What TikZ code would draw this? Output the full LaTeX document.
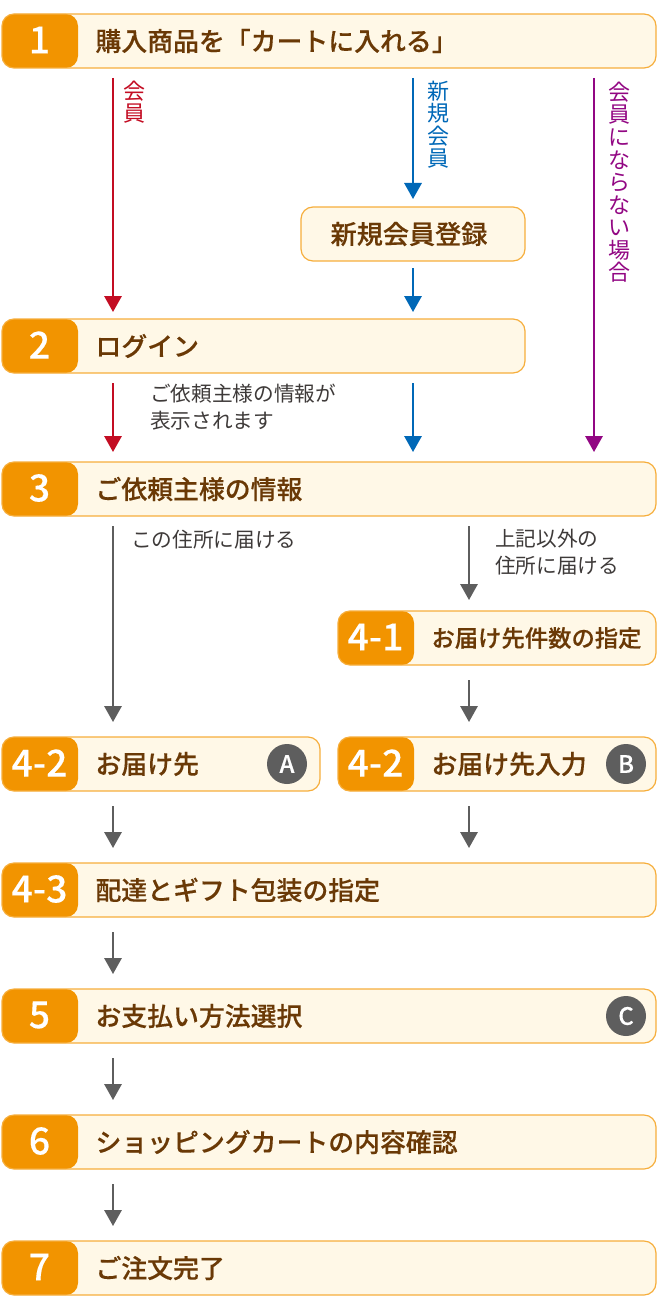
\documentclass[tikz,border=0pt]{standalone}
\usepackage{fontspec}
\setmainfont{Noto Sans CJK JP}
\newfontfamily\midfont[FakeBold=0.25]{Noto Sans CJK JP Medium}
\usetikzlibrary{arrows.meta, calc, positioning}
\definecolor{tabo}{HTML}{F29400}
\definecolor{rand}{HTML}{F6AE3C}
\definecolor{creme}{HTML}{FFF8E7}
\definecolor{braun}{HTML}{6A3906}
\definecolor{rot}{HTML}{C30D23}
\definecolor{blau}{HTML}{0068B7}
\definecolor{lila}{HTML}{920783}
\definecolor{grau}{HTML}{5E5E5E}
\definecolor{notiz}{HTML}{3E3A39}
\def\px{0.75pt}

\begin{document}
\begin{tikzpicture}[
    x=0.75pt, y=-0.75pt,
    every node/.style={inner sep=0pt, outer sep=0pt},
    boxbase/.style={draw=rand, line width=0.9pt, fill=creme, rounded corners=9pt,
      anchor=north west, minimum height=54*\px},
    tabbox/.style={boxbase, path picture={
      \fill[tabo] (path picture bounding box.north west) rectangle
        ([xshift=76*\px]path picture bounding box.south west);}},
    stepnum/.style={text=white, font=\midfont\fontsize{28pt}{28pt}\selectfont},
    steptxt/.style={text=braun, anchor=west, font=\midfont\fontsize{19.4pt}{22pt}\selectfont},
    badge/.style={circle, fill=grau, minimum size=40*\px, text=white,
      font=\midfont\fontsize{18pt}{18pt}\selectfont},
    note/.style={text=notiz, anchor=north west, align=left,
      font=\fontsize{15.5pt}{20.5pt}\selectfont},
    tate/.style={anchor=north, align=center, font=\fontsize{16.5pt}{16.9pt}\selectfont},
    pfeil/.style={line width=1.6pt, shorten <=#1*\px, shorten >=#1*\px,
      -{Triangle[width=13pt, length=12pt]}},
    pfeil/.default=10,
  ]
  \useasboundingbox (0,0) rectangle (658,1316);

  % Spalten der Pfeile
  \coordinate (colA) at (113,0);
  \coordinate (colB) at (413,0);
  \coordinate (colC) at (594,0);
  \coordinate (colD) at (469,0);

  % Kästen mit Nummer
  \foreach \nm/\kx/\ky/\kw/\num/\txt in {
      a/2/14/654/1/購入商品を「カートに入れる」,
      b/2/319/523/2/ログイン,
      c/2/462/654/3/ご依頼主様の情報,
      d/338/611/318/4-1/{\fontsize{17.5pt}{22pt}\selectfont お届け先件数の指定},
      e/2/737/318/4-2/お届け先,
      f/338/737/318/4-2/お届け先入力,
      g/2/863/654/4-3/配達とギフト包装の指定,
      h/2/989/654/5/お支払い方法選択,
      i/2/1115/654/6/ショッピングカートの内容確認,
      j/2/1241/654/7/ご注文完了} {
    \node[tabbox, minimum width=\kw*\px] (box\nm) at (\kx,\ky) {};
    \node[stepnum] (num\nm) at ($(\kx,\ky)+(37.5,26)$) {\num};
    \node[steptxt] (txt\nm) at ($(\kx,\ky)+(93.5,27)$) {\txt};
  }

  % Kasten ohne Nummer
  \node[boxbase, minimum width=224*\px] (boxn) at (301,207) {};
  \node[steptxt, anchor=center, font=\midfont\fontsize{19.6pt}{22pt}\selectfont] (txtn) at (409,234) {新規会員登録};

  % A, B, C
  \node[badge] (badgeA) at (287,764) {A};
  \node[badge] (badgeB) at (626,764) {B};
  \node[badge] (badgeC) at (626,1016) {C};

  % rot
  \draw[pfeil=7, shorten <=10*\px, rot] (boxa.south -| colA) -- (boxb.north -| colA);
  \draw[pfeil, rot] (boxb.south -| colA) -- (boxc.north -| colA);
  % blau
  \draw[pfeil=8, shorten <=10*\px, blau] (boxa.south -| colB) -- (boxn.north -| colB);
  \draw[pfeil=7, blau] (boxn.south -| colB) -- (boxb.north -| colB);
  \draw[pfeil, blau] (boxb.south -| colB) -- (boxc.north -| colB);
  % lila
  \draw[pfeil, lila] (boxa.south -| colC) -- (boxc.north -| colC);
  % grau
  \draw[pfeil=15, shorten <=10*\px, grau] (boxc.south -| colA) -- (boxe.north -| colA);
  \draw[pfeil=11, shorten <=10*\px, grau] (boxc.south -| colD) -- (boxd.north -| colD);
  \draw[pfeil=15, grau] (boxd.south -| colD) -- (boxf.north -| colD);
  \draw[pfeil=15, grau] (boxe.south -| colA) -- (boxg.north -| colA);
  \draw[pfeil=15, grau] (boxf.south -| colD) -- (boxg.north -| colD);
  \draw[pfeil=15, grau] (boxg.south -| colA) -- (boxh.north -| colA);
  \draw[pfeil=15, grau] (boxh.south -| colA) -- (boxi.north -| colA);
  \draw[pfeil=15, grau] (boxi.south -| colA) -- (boxj.north -| colA);

  % Beschriftungen
  \node[tate, text=rot] (tateA) at (134,81) {会\\員};
  \node[tate, text=blau] (tateB) at (438,81) {新\\規\\会\\員};
  \node[tate, text=lila] (tateC) at (619,82) {会\\員\\に\\な\\ら\\な\\い\\場\\合};
  \node[note] (noteA) at (150,384) {ご依頼主様の情報が\\表示されます};
  \node[note] (noteB) at (131,530) {この住所に届ける};
  \node[note] (noteC) at (495,529) {上記以外の\\住所に届ける};
\end{tikzpicture}
\end{document}
